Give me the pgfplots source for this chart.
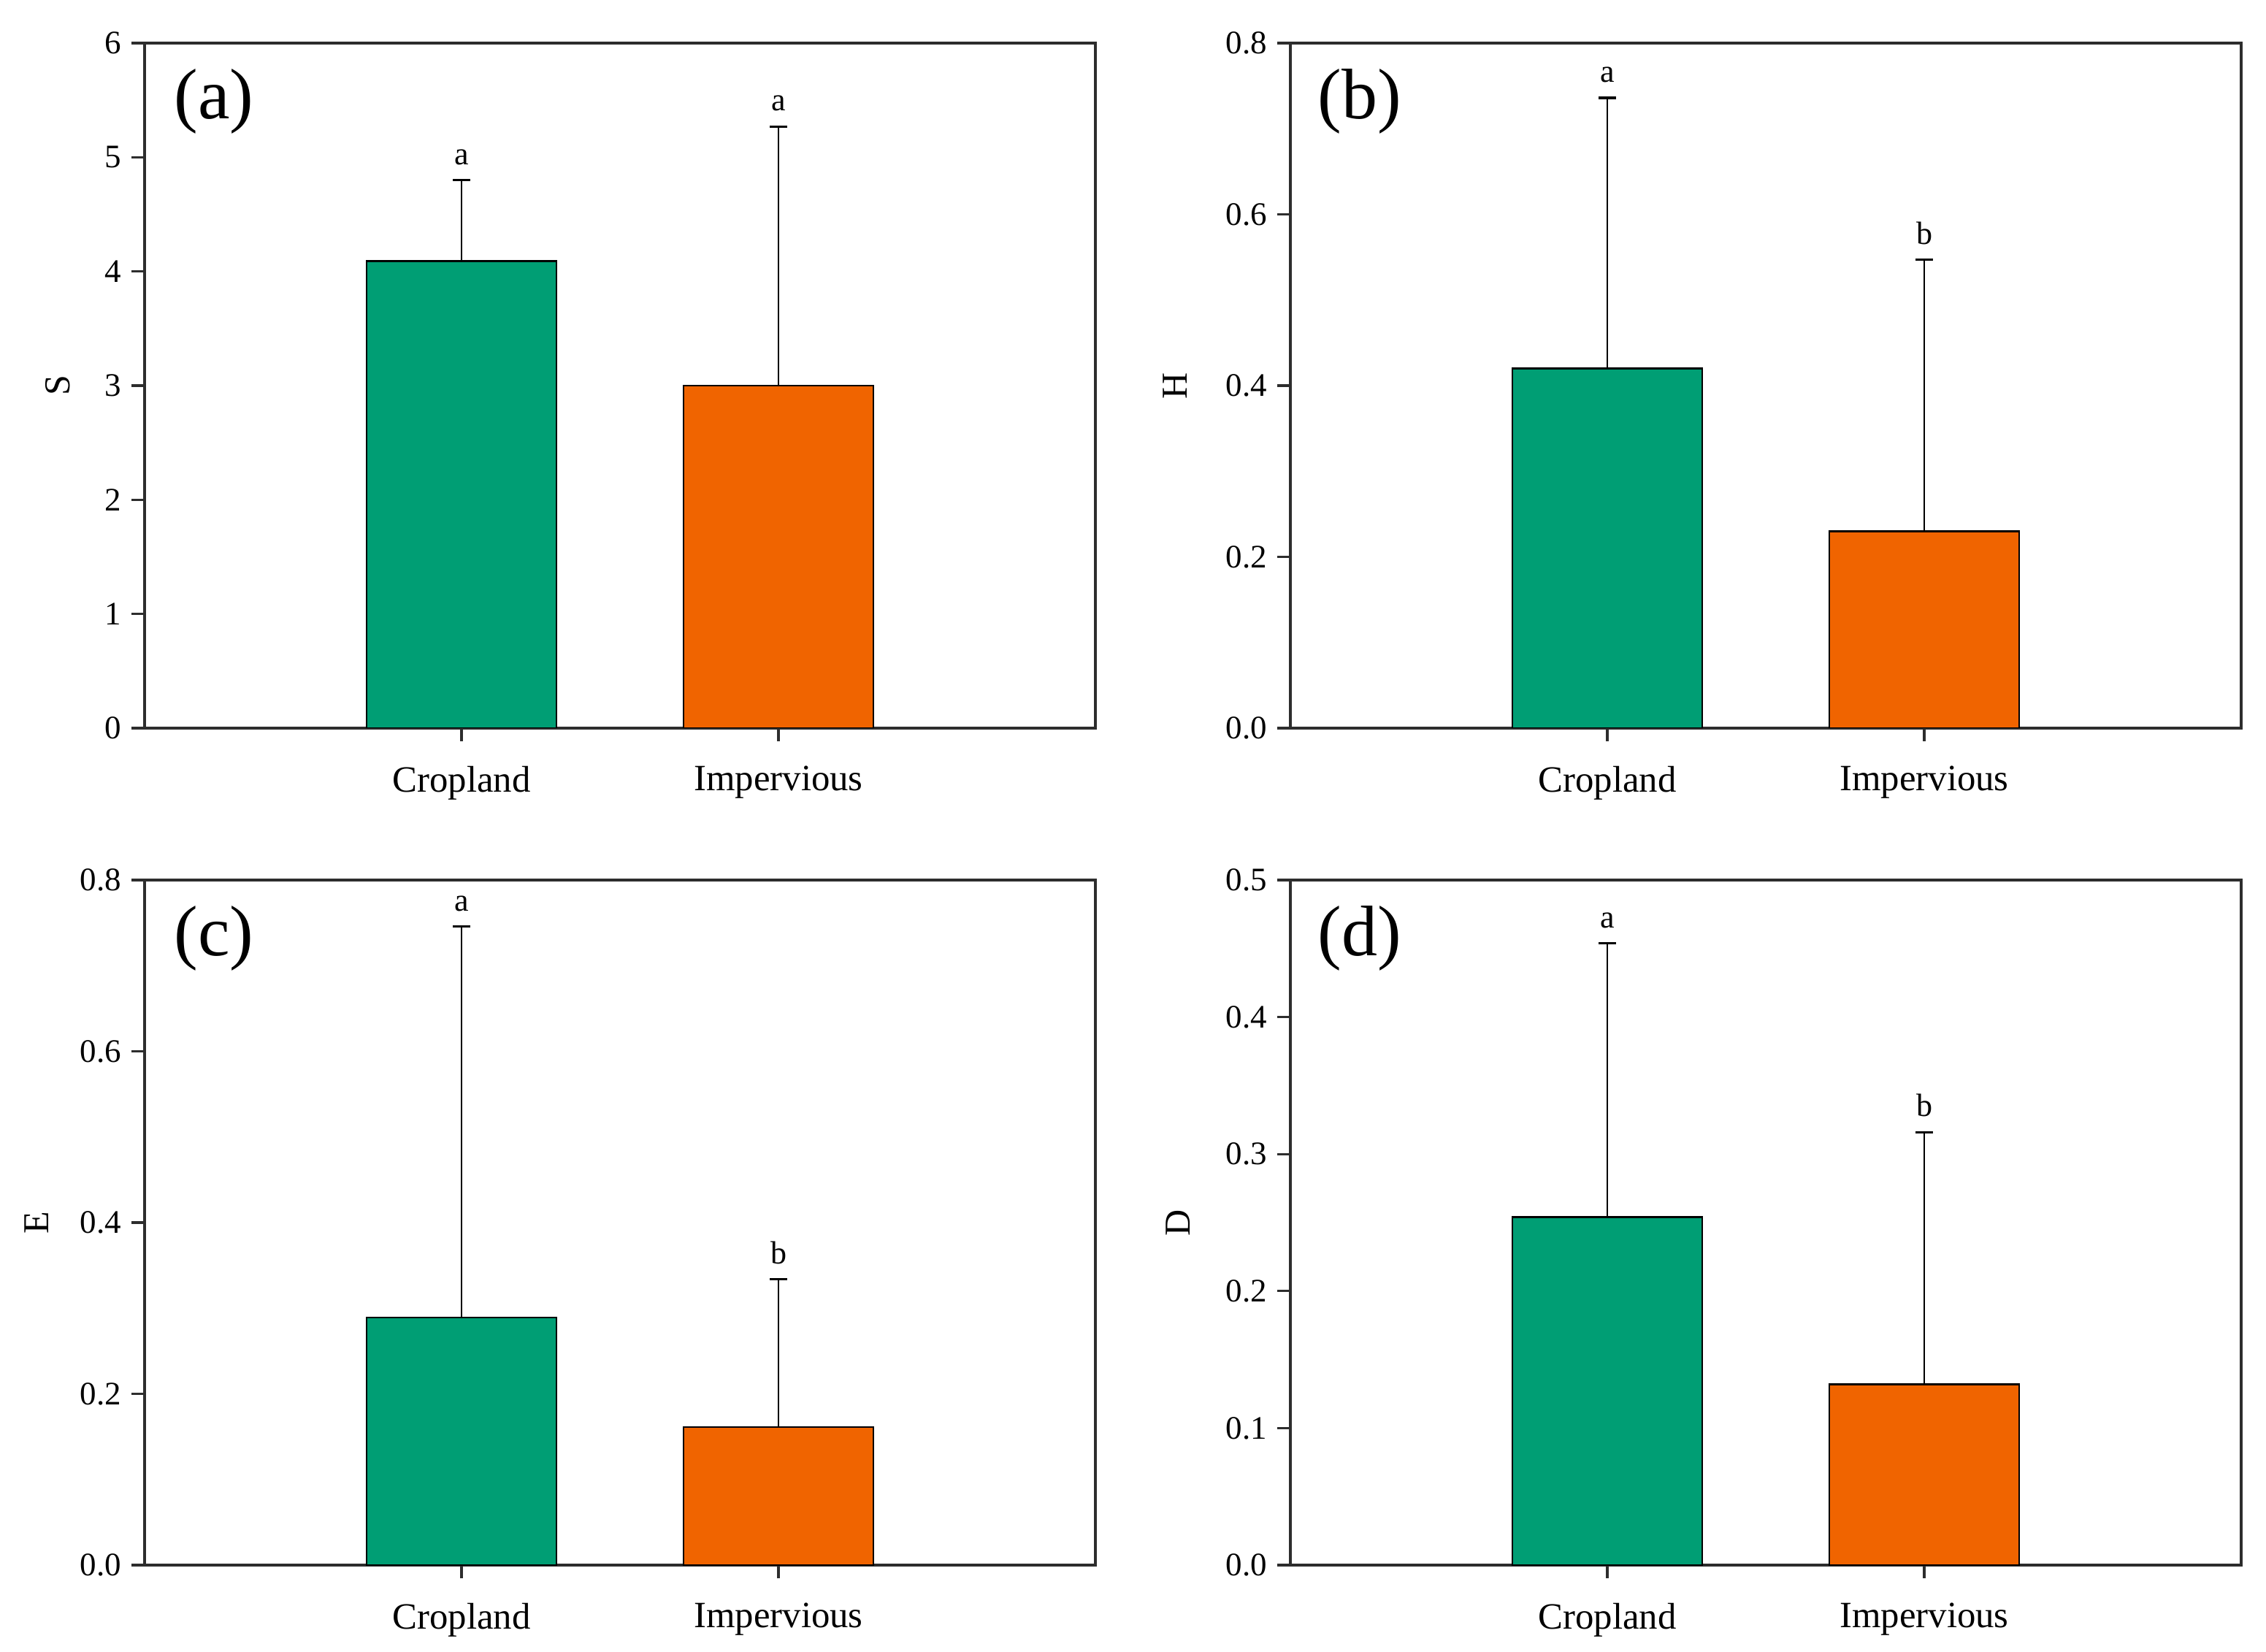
\documentclass[border=0pt]{standalone}
\usepackage{pgfplots}
\pgfplotsset{compat=1.18}
\usepackage{fontspec}
\setmainfont{Liberation Serif}
\definecolor{cgreen}{RGB}{0,158,116}
\definecolor{corange}{RGB}{240,100,0}
\definecolor{axgray}{RGB}{45,45,45}
\pgfplotsset{
 panel/.style={
  scale only axis, width=325.5pt, height=234.5pt,
  xmin=0, xmax=3, ymin=0,
  xtick={1,2}, xticklabels={Cropland,Impervious},
  tick pos=left, tick align=outside,
  major tick length=4.5pt,
  axis line style={axgray, line width=0.8pt},
  tick style={axgray, line width=0.8pt},
  ybar, bar width=0.6, bar shift=0pt,
  /pgf/number format/assume math mode=true,
  yticklabel style={font=\fontsize{11.25}{13}\selectfont},
  xticklabel style={font=\fontsize{12.7}{15}\selectfont, yshift=-5pt},
  ylabel style={at={(axis description cs:0,0.5)}, anchor=center, font=\fontsize{12.5}{15}\selectfont},
  error bars/y dir=plus, error bars/y explicit,
  error bars/error mark=|,
  error bars/error bar style={black, line width=0.6pt},
  error bars/error mark options={black, line width=0.8pt, mark size=3pt},
 },
 dec/.style={yticklabel style={/pgf/number format/.cd, fixed, fixed zerofill, precision=1}},
}
\newcommand{\plab}[1]{\node[font=\fontsize{24.5}{29}\selectfont, anchor=center] at (rel axis cs:0,1) [xshift=23.75pt, yshift=-20pt] {#1};}
\begin{document}
\begin{tikzpicture}
\path[use as bounding box] (0,0) rectangle (775.75pt,565.25pt);
% (a)
\begin{axis}[panel, at={(49.5pt,316pt)}, anchor=south west, ymax=6, ytick={0,1,2,3,4,5,6}, ylabel={S}, ylabel style={yshift=29.75pt}]
\addplot[fill=cgreen, draw=black, line width=0.6pt] coordinates {(1,4.09) +- (0,0.71)};
\addplot[fill=corange, draw=black, line width=0.6pt] coordinates {(2,3.00) +- (0,2.27)};
\node[anchor=south, inner sep=0pt, yshift=5pt, font=\fontsize{11}{13}\selectfont] at (axis cs:1,4.80) {a};
\node[anchor=south, inner sep=0pt, yshift=5pt, font=\fontsize{11}{13}\selectfont] at (axis cs:2,5.27) {a};
\plab{(a)}
\end{axis}
% (b)
\begin{axis}[panel, dec, at={(441.75pt,316pt)}, anchor=south west, ymax=0.8, ytick={0,0.2,0.4,0.6,0.8}, ylabel={H}, ylabel style={yshift=39.5pt}]
\addplot[fill=cgreen, draw=black, line width=0.6pt] coordinates {(1,0.420) +- (0,0.316)};
\addplot[fill=corange, draw=black, line width=0.6pt] coordinates {(2,0.230) +- (0,0.317)};
\node[anchor=south, inner sep=0pt, yshift=5pt, font=\fontsize{11}{13}\selectfont] at (axis cs:1,0.736) {a};
\node[anchor=south, inner sep=0pt, yshift=5pt, font=\fontsize{11}{13}\selectfont] at (axis cs:2,0.547) {b};
\plab{(b)}
\end{axis}
% (c)
\begin{axis}[panel, dec, at={(49.5pt,29.5pt)}, anchor=south west, ymax=0.8, ytick={0,0.2,0.4,0.6,0.8}, ylabel={E}, ylabel style={yshift=37pt}]
\addplot[fill=cgreen, draw=black, line width=0.6pt] coordinates {(1,0.289) +- (0,0.457)};
\addplot[fill=corange, draw=black, line width=0.6pt] coordinates {(2,0.161) +- (0,0.173)};
\node[anchor=south, inner sep=0pt, yshift=5pt, font=\fontsize{11}{13}\selectfont] at (axis cs:1,0.746) {a};
\node[anchor=south, inner sep=0pt, yshift=5pt, font=\fontsize{11}{13}\selectfont] at (axis cs:2,0.334) {b};
\plab{(c)}
\end{axis}
% (d)
\begin{axis}[panel, dec, at={(441.75pt,29.5pt)}, anchor=south west, ymax=0.5, ytick={0,0.1,0.2,0.3,0.4,0.5}, ylabel={D}, ylabel style={yshift=38.5pt}]
\addplot[fill=cgreen, draw=black, line width=0.6pt] coordinates {(1,0.254) +- (0,0.200)};
\addplot[fill=corange, draw=black, line width=0.6pt] coordinates {(2,0.132) +- (0,0.184)};
\node[anchor=south, inner sep=0pt, yshift=5pt, font=\fontsize{11}{13}\selectfont] at (axis cs:1,0.454) {a};
\node[anchor=south, inner sep=0pt, yshift=5pt, font=\fontsize{11}{13}\selectfont] at (axis cs:2,0.316) {b};
\plab{(d)}
\end{axis}
\end{tikzpicture}
\end{document}
